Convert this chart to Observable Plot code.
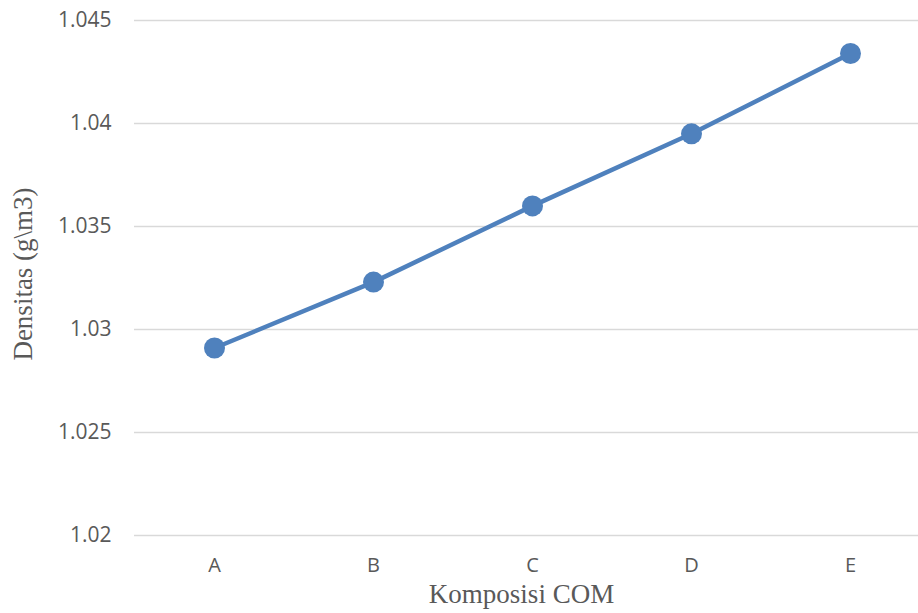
<!DOCTYPE html>
<html>
<head>
<meta charset="utf-8">
<script src="https://cdn.jsdelivr.net/npm/d3@7"></script>
<script src="https://cdn.jsdelivr.net/npm/@observablehq/plot@0.6"></script>
<style>
  html, body { margin: 0; padding: 0; background: #fff; }
  #chart { width: 918px; height: 613px; }
</style>
</head>
<body>
<div id="chart"></div>
<script>
const categories = ["A", "B", "C", "D", "E"];
const densitas = [1.0291, 1.0323, 1.0360, 1.0395, 1.0434];
const yTicks = [1.02, 1.025, 1.03, 1.035, 1.04, 1.045];
const xTitle = "Komposisi COM";
const yTitle = "Densitas (g\\m3)";

const data = categories.map((c, i) => ({cat: c, val: densitas[i]}));

const blue = "#4f81bd";
const grey = "#595959";

const chart = Plot.plot({
  width: 918,
  height: 613,
  marginLeft: 134,
  marginRight: 0,
  marginTop: 20,
  marginBottom: 78,
  style: {color: grey, background: "#fff", overflow: "visible"},
  x: {type: "point", domain: categories, range: [213, 850], padding: 0},
  y: {domain: [1.02, 1.045]},
  marks: [
    Plot.ruleY(yTicks, {stroke: "#d9d9d9", strokeWidth: 1.5}),
    Plot.axisY({
      ticks: yTicks,
      tickSize: 0,
      tickPadding: 23,
      tickFormat: d => String(d),
      fontSize: 21,
      fontFamily: "Open Sans",
      label: null
    }),
    Plot.axisX({
      tickSize: 0,
      tickPadding: 22,
      fontSize: 20,
      fontFamily: "Open Sans",
      label: null
    }),
    Plot.line(data, {x: "cat", y: "val", stroke: blue, strokeWidth: 4.5}),
    Plot.dot(data, {x: "cat", y: "val", r: 10.5, fill: blue, stroke: "none"}),
    Plot.text([xTitle], {
      frameAnchor: "bottom",
      dx: -5,
      dy: 59,
      textAnchor: "middle",
      lineAnchor: "middle",
      fontFamily: "Liberation Serif",
      fontSize: 27,
      fill: grey
    }),
    Plot.text([yTitle], {
      frameAnchor: "left",
      rotate: -90,
      dx: -111.5,
      dy: -4,
      textAnchor: "middle",
      lineAnchor: "middle",
      fontFamily: "Liberation Serif",
      fontSize: 27,
      fill: grey
    })
  ]
});
document.getElementById("chart").appendChild(chart);
</script>
</body>
</html>
